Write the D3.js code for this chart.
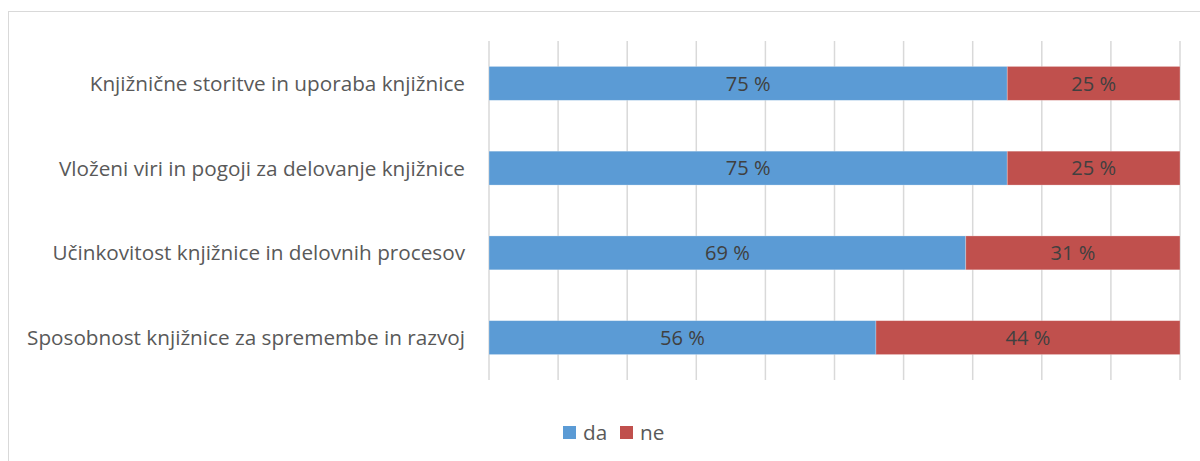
<!DOCTYPE html>
<html>
<head>
<meta charset="utf-8">
<script src="https://cdn.jsdelivr.net/npm/d3@7"></script>
<style>
  html, body { margin: 0; padding: 0; background: #fff; }
  svg { display: block; }
  text { font-family: "Open Sans", Lato, sans-serif; }
</style>
</head>
<body>
<svg id="chart" width="1200" height="461"></svg>
<script>
// Survey areas (top to bottom) and the share of "da" / "ne" answers, in percent
const categories = [
  "Knjižnične storitve in uporaba knjižnice",
  "Vloženi viri in pogoji za delovanje knjižnice",
  "Učinkovitost knjižnice in delovnih procesov",
  "Sposobnost knjižnice za spremembe in razvoj"
];
const daValues = [75, 75, 69, 56];
const neValues = [25, 25, 31, 44];
const seriesNames = ["da", "ne"];
const seriesColors = ["#5B9BD5", "#C0504D"];
const gridTicks = [0, 10, 20, 30, 40, 50, 60, 70, 80, 90, 100];

const svg = d3.select("#chart");
const W = 1200, H = 461;
const plot = { left: 489, right: 1180, top: 41, bottom: 380 };

// chart frame
svg.append("rect")
  .attr("x", 8.5).attr("y", 11.5)
  .attr("width", W + 20).attr("height", H + 20)
  .attr("fill", "#fff").attr("stroke", "#d9d9d9").attr("stroke-width", 1);

const x = d3.scaleLinear().domain([0, 100]).range([plot.left, plot.right]);
const y = d3.scaleBand().domain(categories).range([plot.top, plot.bottom]).paddingInner(0.6).paddingOuter(0.3);

// vertical gridlines
svg.append("g")
  .selectAll("line")
  .data(gridTicks)
  .join("line")
  .attr("x1", d => x(d)).attr("x2", d => x(d))
  .attr("y1", plot.top).attr("y2", plot.bottom)
  .attr("stroke", "#d9d9d9").attr("stroke-width", 1.5);

// category labels, sized so the longest one spans the left margin
const labelSize = 16.6;
const gLabels = svg.append("g")
  .selectAll("text")
  .data(categories)
  .join("text")
  .attr("x", 465)
  .attr("y", d => y(d) + y.bandwidth() / 2)
  .attr("dy", "0.36em")
  .attr("text-anchor", "end")
  .attr("font-size", labelSize)
  .attr("fill", "#595959")
  .text(d => d);
const longest = d3.max(gLabels.nodes(), n => n.getComputedTextLength());
const fitSize = labelSize * 438 / longest;
gLabels.attr("font-size", fitSize);

// stacked rows
const rows = categories.map((c, i) => ({ cat: c, vals: [daValues[i], neValues[i]] }));
const stack = d3.stack().keys([0, 1]).value((d, k) => d.vals[k]);
const layers = stack(rows);

const gBars = svg.append("g");
layers.forEach((layer, k) => {
  gBars.append("g")
    .selectAll("rect")
    .data(layer)
    .join("rect")
    .attr("x", d => x(d[0]))
    .attr("y", d => y(d.data.cat))
    .attr("width", d => x(d[1]) - x(d[0]))
    .attr("height", y.bandwidth())
    .attr("fill", seriesColors[k])
    .attr("stroke", "#fff").attr("stroke-opacity", 0.35).attr("stroke-width", 0.75);

  gBars.append("g")
    .selectAll("text")
    .data(layer)
    .join("text")
    .attr("x", d => (x(d[0]) + x(d[1])) / 2)
    .attr("y", d => y(d.data.cat) + y.bandwidth() / 2)
    .attr("dy", "0.36em")
    .attr("text-anchor", "middle")
    .attr("font-size", fitSize * 0.97)
    .attr("fill", "#404040")
    .text(d => `${d.data.vals[k]} %`);
});

// legend
const legend = svg.append("g");
const legendX = [563, 620];
seriesNames.forEach((name, k) => {
  legend.append("rect")
    .attr("x", legendX[k]).attr("y", 426)
    .attr("width", 13).attr("height", 13)
    .attr("fill", seriesColors[k]);
  legend.append("text")
    .attr("x", legendX[k] + 20).attr("y", 433)
    .attr("dy", "0.36em")
    .attr("font-size", fitSize)
    .attr("fill", "#595959")
    .text(name);
});
</script>
</body>
</html>
